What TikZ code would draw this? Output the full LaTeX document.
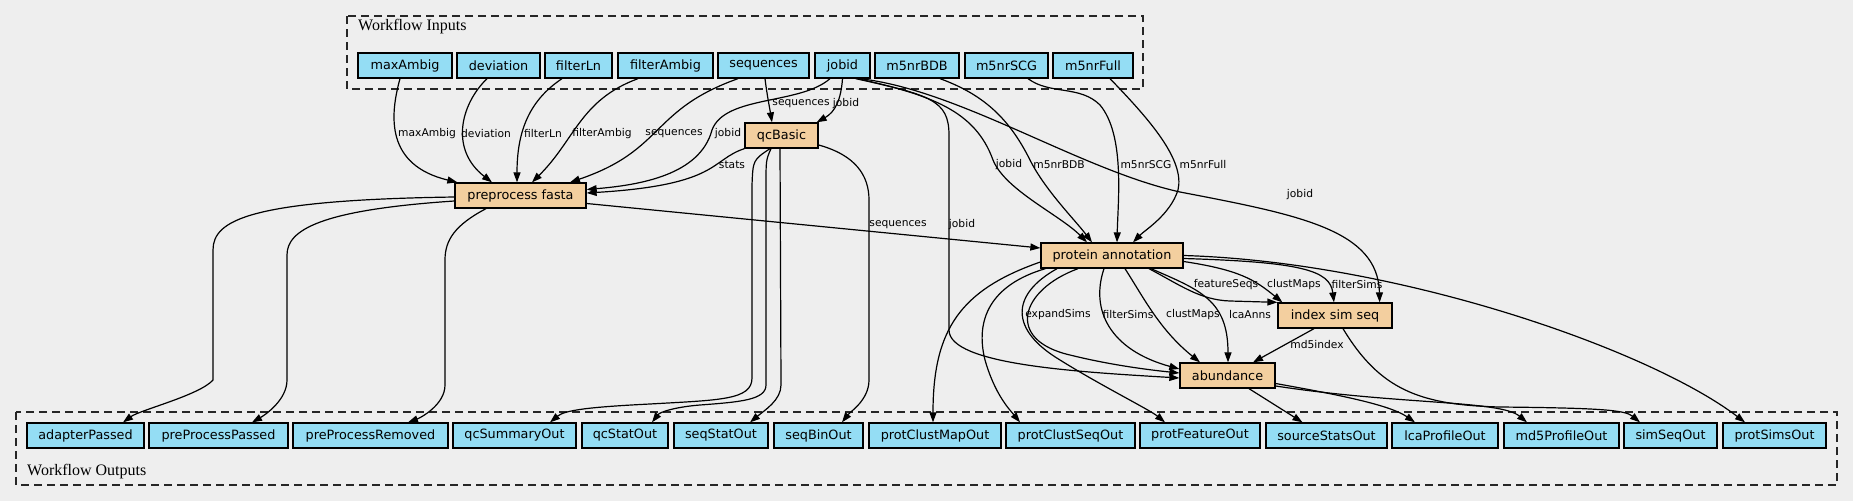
\documentclass[tikz,border=0pt]{standalone}
\usepackage{fontspec}
\setmainfont{DejaVu Sans}
\newfontfamily\ttlfont{Liberation Serif}
\usetikzlibrary{arrows.meta}
\definecolor{bgc}{HTML}{EEEEEE}
\definecolor{iocol}{HTML}{94DDF4}
\definecolor{proccol}{HTML}{F3CF9F}
\begin{document}
\begin{tikzpicture}[x=1pt,y=-1pt,
  box/.style={draw=black, line width=1.3pt, minimum height=25pt, inner sep=0pt, font=\fontsize{12.8}{14}\selectfont},
  io/.style={box, fill=iocol},
  proc/.style={box, fill=proccol},
  edge/.style={line width=1.2pt, -{Triangle[length=10pt,width=7pt]}},
  lbl/.style={font=\fontsize{10.7}{12}\selectfont, inner sep=0pt},
  cluster/.style={draw=black!85, dash pattern=on 8pt off 5pt, line width=1.2pt},
  ttl/.style={font=\ttlfont\fontsize{16}{18}\selectfont, inner sep=0pt, anchor=west}
]
\fill[bgc] (0,0) rectangle (1853,501);
\useasboundingbox (0,0) rectangle (1853,501);

% clusters
\draw[cluster] (347,16) rectangle (1143,89);
\node[ttl] (tin) at (358,27) {Workflow Inputs};
\draw[cluster] (16,412) rectangle (1837,485);
\node[ttl] (tout) at (27,472) {Workflow Outputs};

% inputs
\node[io, minimum width=94pt] (maxAmbig) at (405,65.5) {maxAmbig};
\node[io, minimum width=83pt] (deviation) at (498.5,65.5) {deviation};
\node[io, minimum width=67pt] (filterLn) at (578.5,65.5) {filterLn};
\node[io, minimum width=95pt] (filterAmbig) at (665.5,65.5) {filterAmbig};
\node[io, minimum width=91pt] (sequences) at (763.5,65.5) {sequences};
\node[io, minimum width=55pt] (jobid) at (842.5,65.5) {jobid};
\node[io, minimum width=84pt] (m5nrBDB) at (917,65.5) {m5nrBDB};
\node[io, minimum width=83pt] (m5nrSCG) at (1006.5,65.5) {m5nrSCG};
\node[io, minimum width=80pt] (m5nrFull) at (1093,65.5) {m5nrFull};

% processes
\node[proc, minimum width=73pt] (qc) at (781.5,135.5) {qcBasic};
\node[proc, minimum width=131pt] (pp) at (520.5,195.5) {preprocess fasta};
\node[proc, minimum width=142pt] (prot) at (1112,255.5) {protein annotation};
\node[proc, minimum width=114pt] (idx) at (1335,315.5) {index sim seq};
\node[proc, minimum width=95pt] (abund) at (1227.5,375.5) {abundance};

% outputs
\node[io, minimum width=117pt] (adapterPassed) at (85.5,435.5) {adapterPassed};
\node[io, minimum width=139pt] (preProcessPassed) at (218.5,435.5) {preProcessPassed};
\node[io, minimum width=155pt] (preProcessRemoved) at (370.5,435.5) {preProcessRemoved};
\node[io, minimum width=123pt] (qcSummaryOut) at (514.5,435.5) {qcSummaryOut};
\node[io, minimum width=86pt] (qcStatOut) at (625,435.5) {qcStatOut};
\node[io, minimum width=94pt] (seqStatOut) at (721,435.5) {seqStatOut};
\node[io, minimum width=89pt] (seqBinOut) at (818.5,435.5) {seqBinOut};
\node[io, minimum width=132pt] (protClustMapOut) at (935,435.5) {protClustMapOut};
\node[io, minimum width=129pt] (protClustSeqOut) at (1070.5,435.5) {protClustSeqOut};
\node[io, minimum width=120pt] (protFeatureOut) at (1200,435.5) {protFeatureOut};
\node[io, minimum width=121pt] (sourceStatsOut) at (1326.5,435.5) {sourceStatsOut};
\node[io, minimum width=106pt] (lcaProfileOut) at (1445,435.5) {lcaProfileOut};
\node[io, minimum width=115pt] (md5ProfileOut) at (1561.5,435.5) {md5ProfileOut};
\node[io, minimum width=93pt] (simSeqOut) at (1670.5,435.5) {simSeqOut};
\node[io, minimum width=103pt] (protSimsOut) at (1774.5,435.5) {protSimsOut};

% edges into preprocess fasta
\draw[edge] ([xshift=-5pt]maxAmbig.south) .. controls (390,115) and (385,165) .. ([xshift=3pt]pp.north west);
\draw[edge] ([xshift=-11.5pt]deviation.south) .. controls (460,105) and (450,150) .. ([xshift=-28.5pt]pp.north);
\draw[edge] ([xshift=-16.5pt]filterLn.south) .. controls (530,100) and (517,130) .. ([xshift=-3.5pt]pp.north);
\draw[edge] ([xshift=-27.5pt]filterAmbig.south) .. controls (580,100) and (575,140) .. ([xshift=11.5pt]pp.north);
\draw[edge] ([xshift=-25.5pt]sequences.south) .. controls (650,110) and (665,150) .. ([xshift=49.5pt]pp.north);
\draw[edge] ([xshift=-12.5pt]jobid.south) .. controls (800,105) and (725,95) .. (712,130) .. controls (700,175) and (640,185) .. ([yshift=6pt]pp.east);
\draw[edge] (qc.south west) .. controls (710,160) and (720,185) .. ([yshift=2.5pt]pp.east);
% into qcBasic
\draw[edge] ([xshift=1.5pt]sequences.south) .. controls (767,95) and (770,110) .. ([xshift=-9.5pt]qc.north);
\draw[edge] (jobid.south) .. controls (841,100) and (835,112) .. ([xshift=-2pt]qc.north east);
% into protein annotation
\draw[edge] ([yshift=-8pt]pp.east) -- ([yshift=7.5pt]prot.west);
\draw[edge] ([xshift=-13pt]jobid.south east) .. controls (930,95) and (975,110) .. (993,160) .. controls (1005,190) and (1060,215) .. ([xshift=-25pt]prot.north);
\draw[edge] ([xshift=23pt]m5nrBDB.south) .. controls (985,95) and (1010,120) .. (1030,160) .. controls (1045,190) and (1075,220) .. ([xshift=-20pt]prot.north);
\draw[edge] ([xshift=21.5pt]m5nrSCG.south) .. controls (1050,95) and (1080,85) .. (1100,105) .. controls (1125,135) and (1118,200) .. ([xshift=5pt]prot.north);
\draw[edge] ([xshift=17pt]m5nrFull.south) .. controls (1150,120) and (1185,160) .. (1178,190) .. controls (1170,215) and (1145,230) .. ([xshift=21pt]prot.north);
% jobid to abundance and index
\draw[edge] ([xshift=-15pt]jobid.south east) .. controls (930,95) and (949,100) .. (949,135) -- (949,330) .. controls (949,365) and (1080,372) .. ([yshift=-2.5pt]abund.west);
\draw[edge] ([xshift=-11pt]jobid.south east) .. controls (960,90) and (1080,170) .. (1180,192) .. controls (1300,215) and (1378,230) .. ([xshift=-13pt]idx.north east);
% protein annotation to index sim seq
\draw[edge] ([xshift=37pt]prot.south) .. controls (1180,285) and (1200,300) .. (1230,301) -- (idx.north west);
\draw[edge] ([yshift=-6pt]prot.east) .. controls (1240,270) and (1255,280) .. ([xshift=5pt]idx.north west);
\draw[edge] ([yshift=-3pt]prot.east) .. controls (1300,262) and (1330,270) .. ([xshift=-1pt]idx.north);
% protein annotation to abundance
\draw[edge] ([xshift=-34pt]prot.south) .. controls (1020,290) and (1005,340) .. (1070,355) .. controls (1110,365) and (1150,370) .. ([yshift=2.5pt]abund.west);
\draw[edge] ([xshift=-8pt]prot.south) .. controls (1090,310) and (1110,350) .. ([yshift=6.5pt]abund.west);
\draw[edge] ([xshift=13pt]prot.south) .. controls (1145,300) and (1160,330) .. ([xshift=-27.5pt]abund.north);
\draw[edge] ([xshift=39pt]prot.south) .. controls (1200,290) and (1228,300) .. ([xshift=0.5pt]abund.north);
\draw[edge] ([xshift=-21pt]idx.south) -- ([xshift=25.5pt]abund.north);

% preprocess outputs
\draw[edge] ([yshift=-1.5pt]pp.west) .. controls (250,200) and (213,220) .. (213,250) -- (213,380) .. controls (200,395) and (140,410) .. ([xshift=37.5pt]adapterPassed.north);
\draw[edge] ([yshift=-5.5pt]pp.west) .. controls (320,210) and (287,230) .. (287,255) -- (287,380) .. controls (287,400) and (265,415) .. ([xshift=33.5pt]preProcessPassed.north);
\draw[edge] ([xshift=-34.5pt]pp.south) .. controls (455,225) and (445,240) .. (445,260) -- (445,385) .. controls (445,405) and (420,418) .. ([xshift=37.5pt]preProcessRemoved.north);
% qcBasic outputs
\draw[edge] ([xshift=-11.5pt]qc.south) .. controls (753,160) .. (752,185) -- (752,378) .. controls (752,400) and (720,400) .. (650,404) .. controls (590,407) and (565,410) .. ([xshift=35.5pt]qcSummaryOut.north);
\draw[edge] ([xshift=-10.5pt]qc.south) .. controls (766,160) .. (766,185) -- (766,385) .. controls (766,400) and (740,402) .. (700,405) .. controls (675,407) and (660,412) .. ([xshift=27pt]qcStatOut.north);
\draw[edge] ([xshift=-1.5pt]qc.south) -- (781,385) .. controls (781,400) and (765,410) .. ([xshift=29pt]seqStatOut.north);
\draw[edge] ([yshift=-9.5pt]qc.east) .. controls (855,155) and (869,175) .. (869,200) -- (869,380) .. controls (869,400) and (850,412) .. ([xshift=23.5pt]seqBinOut.north);
% protein annotation outputs
\draw[edge] ([yshift=-6.5pt]prot.west) .. controls (960,290) and (933,330) .. ([xshift=-2pt]protClustMapOut.north);
\draw[edge] ([xshift=5pt]prot.south west) .. controls (990,285) and (975,320) .. (985,360) .. controls (995,395) and (1010,410) .. ([xshift=-50.5pt]protClustSeqOut.north);
\draw[edge] ([xshift=-55pt]prot.south) .. controls (1010,295) and (1010,330) .. (1060,360) .. controls (1100,385) and (1150,410) .. ([xshift=-35pt]protFeatureOut.north);
\draw[edge] (prot.east) .. controls (1400,262) and (1650,350) .. ([xshift=-29.5pt]protSimsOut.north);
% abundance and index outputs
\draw[edge] ([xshift=21.5pt]abund.south) -- ([xshift=-24pt]sourceStatsOut.north);
\draw[edge] ([yshift=-8pt]abund.east) .. controls (1340,395) and (1390,405) .. ([xshift=-30pt]lcaProfileOut.north);
\draw[edge] ([yshift=-10.5pt]abund.east) .. controls (1400,405) and (1500,400) .. ([xshift=-34.5pt]md5ProfileOut.north);
\draw[edge] ([xshift=8pt]idx.south) .. controls (1380,390) and (1420,405) .. (1500,407) .. controls (1600,408) and (1625,410) .. ([xshift=-30.5pt]simSeqOut.north);

% edge labels
\node[lbl] (l1) at (427,134) {maxAmbig};
\node[lbl] (l2) at (486,134) {deviation};
\node[lbl] (l3) at (543,134) {filterLn};
\node[lbl] (l4) at (602,134) {filterAmbig};
\node[lbl] (l5) at (674,134) {sequences};
\node[lbl] (l6) at (728,134) {jobid};
\node[lbl] (l7) at (732,165) {stats};
\node[lbl] (l8) at (801,104) {sequences};
\node[lbl] (l9) at (846,104) {jobid};
\node[lbl] (l10) at (1009,165) {jobid};
\node[lbl] (l11) at (1059,165) {m5nrBDB};
\node[lbl] (l12) at (1146,165) {m5nrSCG};
\node[lbl] (l13) at (1203,165) {m5nrFull};
\node[lbl] (l14) at (1300,195) {jobid};
\node[lbl] (l15) at (898,225) {sequences};
\node[lbl] (l16) at (962,225) {jobid};
\node[lbl] (l17) at (1226,285) {featureSeqs};
\node[lbl] (l18) at (1294,285) {clustMaps};
\node[lbl] (l19) at (1357,285) {filterSims};
\node[lbl] (l20) at (1058,315) {expandSims};
\node[lbl] (l21) at (1128,315) {filterSims};
\node[lbl] (l22) at (1193,315) {clustMaps};
\node[lbl] (l23) at (1250,315) {lcaAnns};
\node[lbl] (l24) at (1317,345) {md5index};
\end{tikzpicture}
\end{document}
